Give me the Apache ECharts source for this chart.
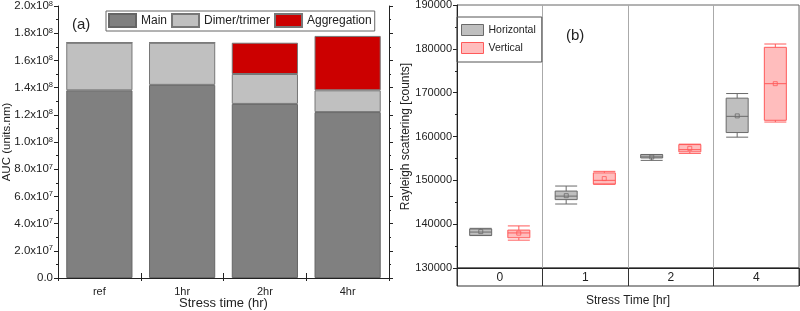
<!DOCTYPE html>
<html><head><meta charset="utf-8">
<script src="https://cdn.jsdelivr.net/npm/echarts@6/dist/echarts.min.js"></script>
<style>html,body{margin:0;padding:0;background:#fff}#c{width:800px;height:311px}</style>
</head><body><div id="c"></div>
<script>
// ---- Data: panel (a) ----
const stressCats = ['ref', '1hr', '2hr', '4hr'];
const mainAUC = [1.38e8, 1.42e8, 1.28e8, 1.22e8];
const dimerAUC = [0.35e8, 0.31e8, 0.22e8, 0.16e8];
const aggAUC = [0, 0, 0.23e8, 0.40e8];
// ---- Data: panel (b) ----  [min, Q1, median, Q3, max]
const timeCats = ['0', '1', '2', '4'];
const horizontalBox = [
  [137400, 137450, 138200, 138900, 139050],
  [144600, 145600, 146400, 147550, 148700],
  [154550, 155100, 155350, 155850, 155900],
  [159850, 160900, 164600, 168750, 169800]
];
const verticalBox = [
  [136350, 136900, 138000, 138650, 139600],
  [149100, 149150, 150000, 151700, 152050],
  [156150, 156500, 157000, 158150, 158250],
  [163300, 163700, 172050, 180350, 181100]
];
const horizontalMean = [138300, 146500, 155300, 164700];
const verticalMean = [137950, 150400, 157300, 172050];

const FONT = 'Liberation Sans, Arial, sans-serif';
const chart = echarts.init(document.getElementById('c'), null, {renderer: 'canvas'});

function sciLabel(v) {
  if (v === 0) return '0.0';
  const e = Math.floor(Math.log10(v) + 1e-9);
  const m = v / Math.pow(10, e);
  return m.toFixed(1) + 'x10{sup|' + e + '}';
}

const axisBlack = {lineStyle: {color: '#222', width: 1}};
const hStyle = {color: '#bfbfbf', borderColor: '#6a6a6a', borderWidth: 1};
const vStyle = {color: '#ffbdbd', borderColor: '#ff5a5a', borderWidth: 1};

const option = {
  animation: false,
  textStyle: {fontFamily: FONT},
  title: [
    {text: '(a)', left: 72, top: 17, textStyle: {fontFamily: FONT, fontSize: 15, fontWeight: 'normal', color: '#222'}, padding: 0},
    {text: '(b)', left: 566, top: 28, textStyle: {fontFamily: FONT, fontSize: 15, fontWeight: 'normal', color: '#222'}, padding: 0}
  ],
  legend: [
    {
      data: ['Main', 'Dimer/trimer', 'Aggregation'],
      left: 106, top: 11, orient: 'horizontal',
      icon: 'rect', itemWidth: 27, itemHeight: 13, itemGap: 4,
      borderColor: '#666', borderWidth: 1, padding: [2, 3, 3, 2],
      textStyle: {fontFamily: FONT, fontSize: 12, color: '#222'}
    },
    {
      data: [
        {name: 'Horizontal', itemStyle: hStyle},
        {name: 'Vertical', itemStyle: vStyle}
      ],
      left: 457, top: 17, orient: 'vertical',
      icon: 'rect', itemWidth: 22, itemHeight: 11, itemGap: 6,
      borderColor: '#555', borderWidth: 1, padding: [7, 6, 8, 4],
      textStyle: {fontFamily: FONT, fontSize: 10.5, color: '#222'}
    }
  ],
  grid: [
    {left: 58, right: 411, top: 6, bottom: 33, show: false, outerBoundsMode: 'none', containLabel: false},
    {left: 457, right: 1, top: 5, bottom: 43, show: true, borderColor: '#666', borderWidth: 1, outerBoundsMode: 'none', containLabel: false},
    {left: 457, right: 1, top: 268, height: 18, show: true, borderColor: '#333', borderWidth: 1, outerBoundsMode: 'none', containLabel: false}
  ],
  xAxis: [
    {
      gridIndex: 0, type: 'category', data: stressCats, position: 'bottom',
      axisLine: axisBlack, axisTick: {show: true, length: 3, lineStyle: {color: '#222'}},
      axisLabel: {fontFamily: FONT, fontSize: 11, color: '#222', margin: 8},
      name: 'Stress time (hr)', nameLocation: 'middle', nameGap: 19, nameMoveOverlap: false,
      nameTextStyle: {fontFamily: FONT, fontSize: 13, color: '#222'}
    },
    {
      gridIndex: 0, type: 'value', position: 'top', min: 0, max: 8, interval: 1,
      axisLine: axisBlack, axisTick: {show: true, length: 5, lineStyle: {color: '#222'}},
      axisLabel: {show: false}, splitLine: {show: false}
    },
    {
      gridIndex: 1, type: 'category', data: timeCats, position: 'bottom',
      axisLine: axisBlack, axisTick: {show: false},
      axisLabel: {fontFamily: FONT, fontSize: 12, color: '#222', margin: 4},
      splitLine: {show: true, lineStyle: {color: '#aaa', width: 1}},
      name: 'Stress Time [hr]', nameLocation: 'middle', nameGap: 27, nameMoveOverlap: false,
      nameTextStyle: {fontFamily: FONT, fontSize: 12, color: '#222'}
    },
    {
      gridIndex: 2, type: 'category', data: timeCats,
      axisLine: {show: false}, axisTick: {show: false}, axisLabel: {show: false},
      splitLine: {show: true, lineStyle: {color: '#333', width: 1}}
    }
  ],
  yAxis: [
    {
      gridIndex: 0, type: 'value', min: 0, max: 2e8, interval: 2e7, position: 'left',
      axisLine: {show: true, lineStyle: {color: '#222'}},
      axisTick: {show: true, length: 4, lineStyle: {color: '#222'}},
      minorTick: {show: true, splitNumber: 2, length: 2, lineStyle: {color: '#222'}},
      splitLine: {show: false},
      axisLabel: {
        fontFamily: FONT, fontSize: 11.5, color: '#222', margin: 5,
        formatter: sciLabel,
        rich: {sup: {fontSize: 7.5, verticalAlign: 'top', padding: [0, 0, 5, 0], fontFamily: FONT, color: '#222'}}
      },
      name: 'AUC (units.nm)', nameLocation: 'middle', nameGap: 45, nameMoveOverlap: false,
      nameTextStyle: {fontFamily: FONT, fontSize: 11.5, color: '#222'}
    },
    {
      gridIndex: 0, type: 'value', min: 0, max: 2e8, interval: 2e7, position: 'right',
      axisLine: {show: true, lineStyle: {color: '#222'}},
      axisTick: {show: true, length: 4, lineStyle: {color: '#222'}},
      minorTick: {show: true, splitNumber: 2, length: 2, lineStyle: {color: '#222'}},
      splitLine: {show: false}, axisLabel: {show: false}
    },
    {
      gridIndex: 1, type: 'value', min: 130000, max: 190000, interval: 10000,
      axisLine: {show: true, lineStyle: {color: '#222'}},
      axisTick: {show: true, length: 4, lineStyle: {color: '#222'}},
      minorTick: {show: true, splitNumber: 2, length: 2, lineStyle: {color: '#222'}},
      splitLine: {show: false},
      axisLabel: {fontFamily: FONT, fontSize: 11, color: '#222', margin: 5, formatter: v => String(v)},
      name: 'Rayleigh scattering [counts]', nameLocation: 'middle', nameGap: 45, nameMoveOverlap: false,
      nameTextStyle: {fontFamily: FONT, fontSize: 12, color: '#222'}
    },
    {gridIndex: 2, type: 'value', show: false, min: 0, max: 1}
  ],
  series: [
    {
      name: 'Main', type: 'bar', stack: 'auc', xAxisIndex: 0, yAxisIndex: 0,
      data: mainAUC, barCategoryGap: '20%',
      itemStyle: {color: '#808080', borderColor: '#666', borderWidth: 1}
    },
    {
      name: 'Dimer/trimer', type: 'bar', stack: 'auc', xAxisIndex: 0, yAxisIndex: 0,
      data: dimerAUC, barCategoryGap: '20%',
      itemStyle: {color: '#c0c0c0', borderColor: '#777', borderWidth: 1}
    },
    {
      name: 'Aggregation', type: 'bar', stack: 'auc', xAxisIndex: 0, yAxisIndex: 0,
      data: aggAUC, barCategoryGap: '20%',
      itemStyle: {color: '#cc0000', borderColor: '#777', borderWidth: 1}
    },
    {
      name: 'Horizontal', type: 'boxplot', xAxisIndex: 2, yAxisIndex: 2,
      data: horizontalBox, boxWidth: [22, 22], itemStyle: hStyle
    },
    {
      name: 'Vertical', type: 'boxplot', xAxisIndex: 2, yAxisIndex: 2,
      data: verticalBox, boxWidth: [22, 22], itemStyle: vStyle
    },
    {
      name: 'H mean', type: 'scatter', xAxisIndex: 2, yAxisIndex: 2,
      data: horizontalMean, symbol: 'rect', symbolSize: 4, symbolOffset: [-19, 0],
      itemStyle: {color: 'rgba(0,0,0,0)', borderColor: '#6a6a6a', borderWidth: 1}
    },
    {
      name: 'V mean', type: 'scatter', xAxisIndex: 2, yAxisIndex: 2,
      data: verticalMean, symbol: 'rect', symbolSize: 4, symbolOffset: [19, 0],
      itemStyle: {color: 'rgba(0,0,0,0)', borderColor: '#ff5a5a', borderWidth: 1}
    }
  ]
};
chart.setOption(option);
</script>
</body></html>
